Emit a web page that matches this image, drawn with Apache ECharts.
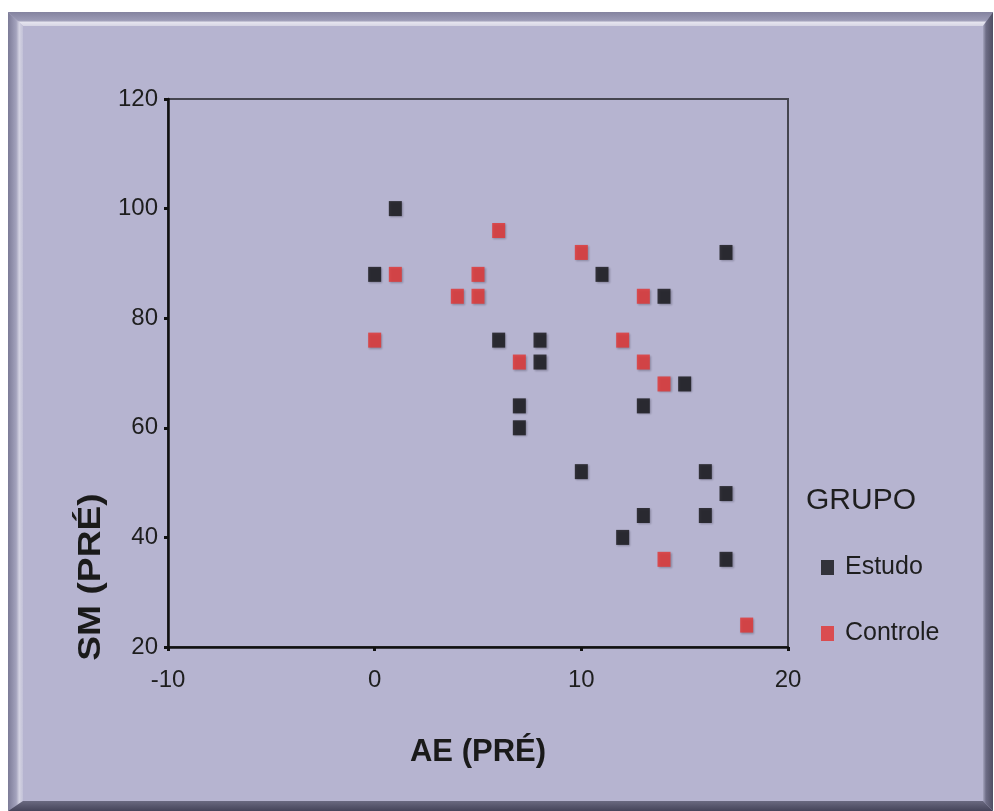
<!DOCTYPE html>
<html>
<head>
<meta charset="utf-8">
<script src="https://cdn.jsdelivr.net/npm/echarts@6/dist/echarts.min.js"></script>
<style>
  html, body { margin: 0; padding: 0; background: #ffffff; }
  #chart { width: 994px; height: 811px; }
</style>
</head>
<body>
<div id="chart"></div>
<script>
// AE (PRÉ) vs SM (PRÉ), by group
const estudoAE = [1, 0, 6, 8, 8, 7, 7, 10, 11, 14, 13, 15, 17, 16, 17, 16, 13, 12, 17];
const estudoSM = [100, 88, 76, 76, 72, 64, 60, 52, 88, 84, 64, 68, 92, 52, 48, 44, 44, 40, 36];
const controleAE = [0, 1, 4, 5, 5, 6, 7, 10, 13, 12, 13, 14, 14, 18];
const controleSM = [76, 88, 84, 84, 88, 96, 72, 92, 84, 76, 72, 68, 36, 24];
const xTicks = [-10, 0, 10, 20];
const yTicks = [20, 40, 60, 80, 100, 120];
const groupNames = ['Estudo', 'Controle'];

const pairs = (xs, ys) => xs.map((x, i) => [x, ys[i]]);

const FONT = '"Liberation Sans", Arial, sans-serif';
const FACE = '#b6b4d0';

const chart = echarts.init(document.getElementById('chart'), null, { renderer: 'canvas' });

const frame = [
  // panel face
  { type: 'rect', z: -10, shape: { x: 8, y: 12, width: 985, height: 799 }, style: { fill: FACE } },
  // top bevel
  { type: 'polygon', z: -9, shape: { points: [[8, 12], [993, 12], [983, 26], [23, 26]] },
    style: { fill: new echarts.graphic.LinearGradient(0, 0, 0, 1, [
      { offset: 0, color: '#84839f' }, { offset: 0.6, color: '#9c9bb6' }, { offset: 0.75, color: '#e4e3ee' }, { offset: 1, color: '#d6d5e4' }]) } },
  // left bevel
  { type: 'polygon', z: -9, shape: { points: [[8, 12], [23, 26], [23, 801], [8, 811]] },
    style: { fill: new echarts.graphic.LinearGradient(0, 0, 1, 0, [
      { offset: 0, color: '#7c7b97' }, { offset: 0.55, color: '#a4a3bd' }, { offset: 0.75, color: '#d4d3e2' }, { offset: 1, color: '#c2c1d8' }]) } },
  // right bevel
  { type: 'polygon', z: -9, shape: { points: [[993, 12], [993, 811], [983, 801], [983, 26]] },
    style: { fill: new echarts.graphic.LinearGradient(0, 0, 1, 0, [
      { offset: 0, color: '#a6a5bf' }, { offset: 0.3, color: '#6e6d86' }, { offset: 1, color: '#4f4e63' }]) } },
  // bottom bevel
  { type: 'polygon', z: -9, shape: { points: [[8, 811], [993, 811], [983, 801], [23, 801]] },
    style: { fill: new echarts.graphic.LinearGradient(0, 0, 0, 1, [
      { offset: 0, color: '#6a6980' }, { offset: 1, color: '#45445a' }]) } }
];

const markerStyle = (color) => ({
  color: color,
  shadowBlur: 2,
  shadowOffsetX: 1,
  shadowOffsetY: 1,
  shadowColor: 'rgba(40,40,60,0.4)'
});

chart.setOption({
  backgroundColor: '#ffffff',
  animation: false,
  grid: {
    left: 168, top: 99, width: 620, height: 548,
    show: true, borderColor: '#45454f', borderWidth: 2, backgroundColor: 'transparent'
  },
  xAxis: {
    type: 'value', min: xTicks[0], max: xTicks[xTicks.length - 1], interval: 10,
    name: 'AE (PRÉ)', nameLocation: 'middle', nameGap: 90,
    nameTextStyle: { fontFamily: FONT, fontSize: 31, fontWeight: 'bold', color: '#1a1a1a' },
    axisLine: { show: true, onZero: false, lineStyle: { color: '#111111', width: 2.5 } },
    axisTick: { show: true, length: 4, lineStyle: { color: '#111111', width: 3 } },
    axisLabel: { fontFamily: FONT, fontSize: 24, color: '#1e1e1e', margin: 21 },
    splitLine: { show: false }
  },
  yAxis: {
    type: 'value', min: yTicks[0], max: yTicks[yTicks.length - 1], interval: 20,
    axisLine: { show: true, onZero: false, lineStyle: { color: '#111111', width: 2.5 } },
    axisTick: { show: true, length: 4, lineStyle: { color: '#111111', width: 3 } },
    axisLabel: { fontFamily: FONT, fontSize: 24, color: '#1e1e1e', margin: 10 },
    splitLine: { show: false }
  },
  legend: {
    data: groupNames,
    orient: 'vertical',
    left: 816, top: 543,
    itemWidth: 13, itemHeight: 15, itemGap: 27,
    icon: 'rect',
    textStyle: { fontFamily: FONT, fontSize: 25, color: '#1e1e1e', lineHeight: 25, padding: [14, 0, 0, 6] }
  },
  graphic: frame.concat([
    { type: 'text', left: 806, top: 486, style: { text: 'GRUPO', font: '30px ' + FONT, fill: '#1e1e1e' } },
    { type: 'text', x: 91, y: 577, rotation: Math.PI / 2, scaleX: 1.2,
      style: { text: 'SM (PRÉ)', font: 'bold 31px ' + FONT, fill: '#1a1a1a', align: 'center', verticalAlign: 'middle' } }
  ]),
  series: [
    { name: groupNames[0], type: 'scatter', symbol: 'rect', symbolSize: [13, 15],
      data: pairs(estudoAE, estudoSM), itemStyle: markerStyle('#111114') },
    { name: groupNames[1], type: 'scatter', symbol: 'rect', symbolSize: [13, 15],
      data: pairs(controleAE, controleSM), itemStyle: markerStyle('#e3322f') }
  ]
});
</script>
</body>
</html>
